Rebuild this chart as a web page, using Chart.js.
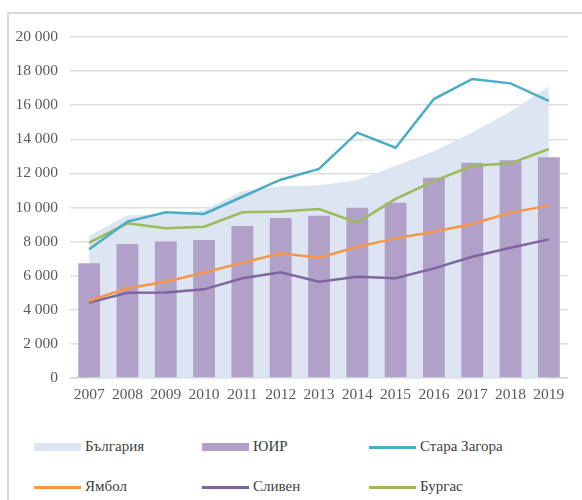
<!DOCTYPE html>
<html>
<head>
<meta charset="utf-8">
<script src="https://cdn.jsdelivr.net/npm/chart.js@4"></script>
<style>
	body{margin:0;background:#fff;width:582px;height:500px;overflow:hidden;position:relative;font-family:"Liberation Serif",serif;}
	#frame{position:absolute;left:7px;top:12px;width:600px;height:520px;border-left:2px solid #d9d9d9;border-top:2px solid #d9d9d9;}
	#wrap{position:absolute;left:0;top:0;width:582px;height:404px;}
	.lg{position:absolute;font-size:15px;color:#404040;white-space:nowrap;}
	.lg i{position:absolute;left:0;width:47px;}
	.lg span{position:absolute;left:51px;top:-9px;}
</style>
</head>
<body>
<div id="frame"></div>
<div id="wrap"><canvas id="incomeChart"></canvas></div>
<div id="legendBox"></div>
<script>
// години
var years = ['2007','2008','2009','2010','2011','2012','2013','2014','2015','2016','2017','2018','2019'];

// стойности по серии
var bulgaria   = [8350, 9550, 9600, 9850, 10950, 11250, 11300, 11600, 12450, 13300, 14400, 15650, 17100];
var uir        = [6730, 7860, 8000, 8090, 8920, 9390, 9520, 9990, 10280, 11750, 12630, 12770, 12940];
var staraZagora= [7550, 9170, 9720, 9620, 10630, 11630, 12260, 14390, 13510, 16360, 17540, 17280, 16250];
var yambol     = [4530, 5260, 5650, 6180, 6760, 7310, 7060, 7700, 8190, 8580, 9030, 9700, 10110];
var sliven     = [4420, 5000, 5020, 5200, 5850, 6200, 5650, 5940, 5850, 6430, 7110, 7640, 8130];
var burgas     = [7940, 9070, 8780, 8870, 9720, 9760, 9910, 9110, 10500, 11550, 12450, 12590, 13430];

var yTicks = [0, 2000, 4000, 6000, 8000, 10000, 12000, 14000, 16000, 18000, 20000];

function fmtNum(v){
	return String(v).replace(/\B(?=(\d{3})+(?!\d))/g, ' ');
}

var ctx = document.getElementById('incomeChart').getContext('2d');

var incomeChart = new Chart(ctx, {
	data: {
		labels: years,
		datasets: [
			{ type:'line', label:'България', data:bulgaria, backgroundColor:'#dce5f1', borderWidth:0, pointRadius:0, fill:'origin', order:3 },
			{ type:'bar', label:'ЮИР', data:uir, backgroundColor:'#b1a0c7', barPercentage:0.57, categoryPercentage:1, order:2 },
			{ type:'line', label:'Стара Загора', data:staraZagora, borderColor:'#4bacc6', borderWidth:2.5, pointRadius:0, fill:false, order:1 },
			{ type:'line', label:'Ямбол', data:yambol, borderColor:'#f79646', borderWidth:2.5, pointRadius:0, fill:false, order:1 },
			{ type:'line', label:'Сливен', data:sliven, borderColor:'#8064a2', borderWidth:2.5, pointRadius:0, fill:false, order:1 },
			{ type:'line', label:'Бургас', data:burgas, borderColor:'#9bbb59', borderWidth:2.5, pointRadius:0, fill:false, order:1 }
		]
	},
	options: {
		responsive: true,
		maintainAspectRatio: false,
		animation: false,
		layout: { padding: { top: 37, right: 14, left: 0, bottom: 0 } },
		plugins: { legend: { display:false }, tooltip: { enabled:false } },
		scales: {
			x: {
				grid: { display:false, drawTicks:false },
				border: { display:false },
				ticks: { color:'#595959', font:{ family:'Liberation Serif', size:15.5 }, padding:8, maxRotation:0 },
				afterFit: function(scale){ scale.height = 26; }
			},
			y: {
				min: 0, max: 20000,
				afterBuildTicks: function(scale){ scale.ticks = yTicks.map(function(v){ return {value:v}; }); },
				afterFit: function(scale){ scale.width = 70; },
				grid: { color: function(c){ return c.tick && c.tick.value === 0 ? '#cfcfcf' : '#dedede'; }, lineWidth:1.5, drawTicks:false },
				border: { display:false },
				ticks: { color:'#595959', font:{ family:'Liberation Serif', size:15.5 }, padding:12, callback:function(v){ return fmtNum(v); } }
			}
		}
	}
});

// легенда
var legendItems = [
	{ text:'България', color:'#dce5f1', h:8, x:34, y:447 },
	{ text:'ЮИР', color:'#b1a0c7', h:8, x:202, y:447 },
	{ text:'Стара Загора', color:'#4bacc6', h:3, x:369, y:447 },
	{ text:'Ямбол', color:'#f79646', h:3, x:34, y:487 },
	{ text:'Сливен', color:'#8064a2', h:3, x:202, y:487 },
	{ text:'Бургас', color:'#9bbb59', h:3, x:369, y:487 }
];
var html = '';
legendItems.forEach(function(it){
	html += '<div class="lg" style="left:' + it.x + 'px;top:' + it.y + 'px;">' +
				'<i style="top:' + (-it.h/2) + 'px;height:' + it.h + 'px;background:' + it.color + ';"></i>' +
				'<span>' + it.text + '</span>' +
			'</div>';
});
document.getElementById('legendBox').innerHTML = html;
</script>
</body>
</html>
